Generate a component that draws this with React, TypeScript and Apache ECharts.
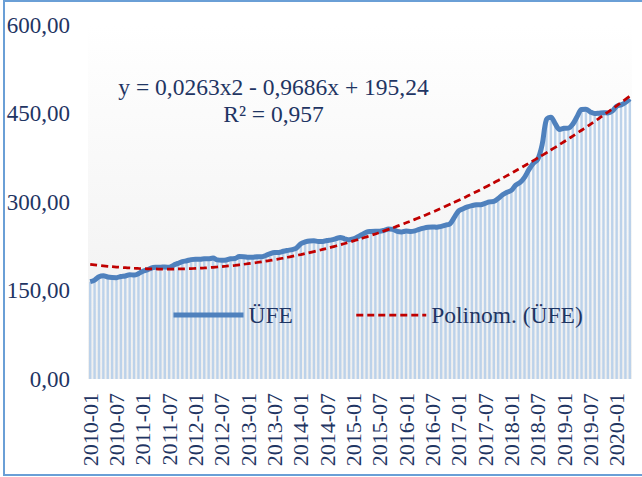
import React, { useEffect, useRef } from "react";
import * as echarts from "echarts";

const startYear = 2010;
const endYear = 2020;
const endMonth = 4;

const ufe2010 = [164.94, 167.68, 173.2, 174.96, 172.95, 172.08, 171.81, 173.79, 174.67, 176.78, 176.23, 178.54];
const ufe2011 = [182.75, 184.9, 188.17, 189.32, 189.61, 189.62, 189.57, 192.91, 195.89, 199.03, 200.32, 202.33];
const ufe2012 = [203.1, 202.91, 203.64, 203.81, 204.89, 201.83, 201.2, 201.71, 203.79, 204.15, 207.54, 207.29];
const ufe2013 = [206.48, 206.28, 207.27, 207.05, 209.34, 212.39, 214.5, 214.59, 216.48, 217.97, 219.31, 221.74];
const ufe2014 = [229.1, 232.27, 233.98, 234.18, 232.96, 233.09, 234.79, 235.78, 237.79, 239.97, 237.65, 235.84];
const ufe2015 = [237.6, 241.0, 245.0, 249.0, 250.0, 250.5, 250.6, 252.0, 254.3, 253.7, 250.1, 249.31];
const ufe2016 = [250.67, 250.16, 251.17, 253.74, 255.76, 257.27, 257.81, 257.27, 258.77, 260.94, 263.0, 274.09];
const ufe2017 = [284.99, 288.59, 291.58, 293.79, 295.31, 295.52, 297.65, 300.18, 300.9, 306.04, 312.21, 316.48];
const ufe2018 = [319.6, 328.59, 333.2, 341.88, 354.85, 365.6, 372.06, 396.62, 439.78, 443.78, 432.55, 422.94];
const ufe2019 = [424.86, 425.26, 431.98, 444.85, 456.74, 457.16, 452.63, 449.96, 450.55, 451.31, 450.97, 454.08];
const ufe2020 = [462.42, 464.64, 468.69, 474.69];

const ufeValues = [
  ...ufe2010, ...ufe2011, ...ufe2012, ...ufe2013, ...ufe2014, ...ufe2015,
  ...ufe2016, ...ufe2017, ...ufe2018, ...ufe2019, ...ufe2020,
];

// polynomial trendline coefficients as printed on the chart (a2, a1, a0)
const trendCoefficients = [0.0263, -0.9686, 195.24];
const equationLines = ["y = 0,0263x2 - 0,9686x + 195,24", "R² = 0,957"];

const yTicks = [0, 150, 300, 450, 600];

const categories: string[] = [];
for (let y = startYear; y <= endYear; y++) {
  const last = y === endYear ? endMonth : 12;
  for (let m = 1; m <= last; m++) categories.push(`${y}-${m < 10 ? "0" + m : m}`);
}

const trendValues = categories.map((_, i) => {
  const x = i + 1;
  return +(trendCoefficients[0] * x * x + trendCoefficients[1] * x + trendCoefficients[2]).toFixed(2);
});

const FONT = "'Liberation Serif', 'Times New Roman', serif";
const NAVY = "#1f3563";

export default function App() {
  const ref = useRef<HTMLDivElement>(null);
  useEffect(() => {
    if (!ref.current) return;
    const chart = echarts.init(ref.current, null, { renderer: "svg" });
    chart.setOption({
      animation: false,
      backgroundColor: "#ffffff",
      grid: {
        left: 88,
        right: 10,
        top: 25,
        bottom: 98,
        show: true,
        borderWidth: 0,
        backgroundColor: new echarts.graphic.LinearGradient(0, 0, 0, 1, [
          { offset: 0, color: "#ffffff" },
          { offset: 0.12, color: "#fdfdfd" },
          { offset: 1, color: "#efefef" },
        ]),
      },
      legend: {
        data: [
          { name: "ÜFE", lineStyle: { width: 5 } },
          { name: "Polinom. (ÜFE)", lineStyle: { width: 2.75 } },
        ],
        left: 166,
        top: 298,
        itemWidth: 70,
        itemHeight: 14,
        itemGap: 62,
        itemStyle: { opacity: 0 },
        textStyle: { fontFamily: FONT, fontSize: 23.5, color: NAVY, padding: [0, 0, 0, 0] },
      },
      xAxis: {
        type: "category",
        data: categories,
        boundaryGap: true,
        axisLine: { show: false },
        axisTick: { show: false },
        axisLabel: {
          interval: 5,
          rotate: 90,
          margin: 14,
          fontFamily: FONT,
          fontSize: 22,
          color: NAVY,
        },
      },
      yAxis: {
        type: "value",
        min: yTicks[0],
        max: yTicks[yTicks.length - 1],
        interval: 150,
        splitLine: { show: false },
        axisLine: { show: false },
        axisTick: { show: false },
        axisLabel: {
          margin: 18,
          fontFamily: FONT,
          fontSize: 23,
          color: NAVY,
          formatter: (v: number) => v.toFixed(2).replace(".", ","),
        },
      },
      series: [
        {
          name: "ÜFE",
          type: "line",
          data: ufeValues,
          symbol: "none",
          smooth: 0.35,
          lineStyle: { color: "#4f81bd", width: 5 },
          itemStyle: { color: "#4f81bd" },
          z: 3,
        },
        {
          name: "ÜFE (sütun)",
          type: "bar",
          data: ufeValues,
          barWidth: "55%",
          itemStyle: { color: "#bcd2ea" },
          silent: true,
          z: 1,
        },
        {
          name: "Polinom. (ÜFE)",
          type: "line",
          data: trendValues,
          symbol: "none",
          smooth: true,
          lineStyle: { color: "#c00000", width: 2.75, type: [7, 4] },
          itemStyle: { color: "#c00000" },
          z: 4,
        },
      ],
      graphic: [
        {
          type: "rect",
          shape: { x: 4, y: 1, width: 700, height: 474 },
          style: { fill: "none", stroke: "#6a9fd6", lineWidth: 2 },
          silent: true,
          z: 10,
        },
        {
          type: "text",
          x: 273.5,
          y: 87,
          style: {
            text: equationLines[0],
            fontFamily: FONT,
            fontSize: 23.5,
            fill: NAVY,
            textAlign: "center",
            textVerticalAlign: "middle",
          },
          z: 10,
        },
        {
          type: "text",
          x: 273.5,
          y: 114,
          style: {
            text: equationLines[1],
            fontFamily: FONT,
            fontSize: 23.5,
            fill: NAVY,
            textAlign: "center",
            textVerticalAlign: "middle",
          },
          z: 10,
        },
      ],
    });
    return () => chart.dispose();
  }, []);
  return (
    <div
      ref={ref}
      style={{ position: "fixed", left: 0, top: 0, width: 642, height: 477 }}
    />
  );
}
